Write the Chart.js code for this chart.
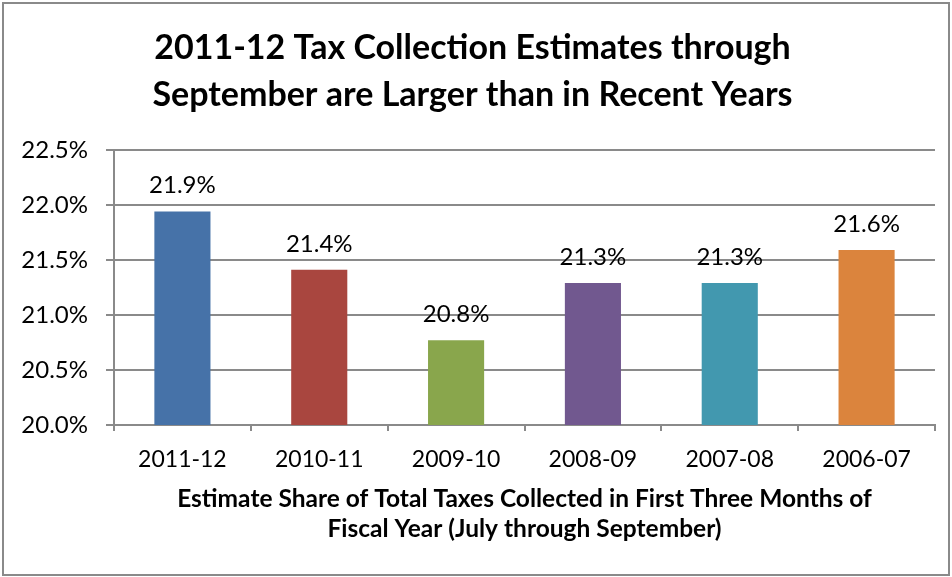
<!DOCTYPE html>
<html>
<head>
<meta charset="utf-8">
<script src="https://cdn.jsdelivr.net/npm/chart.js@4"></script>
<style>
  html, body { margin: 0; padding: 0; background: #fff; }
  #wrap { width: 952px; height: 577px; position: relative; }
</style>
</head>
<body>
<div id="wrap"><canvas id="chart"></canvas></div>
<script>
const years = ['2011-12', '2010-11', '2009-10', '2008-09', '2007-08', '2006-07']
const shares = [21.94, 21.41, 20.77, 21.29, 21.29, 21.59]
const barColors = ['#4672A8', '#A9463F', '#89A64C', '#71588F', '#4298AF', '#DB843D']
const yTicks = [20.0, 20.5, 21.0, 21.5, 22.0, 22.5]

const FONT = 'Lato'
const GRAY = '#8a8a8a'

// outer frame of the chart object
const framePlugin = {
  id: 'frame',
  beforeDraw: (chart) => {
    const ctx = chart.ctx
    ctx.save()
    ctx.fillStyle = '#fff'
    ctx.fillRect(0, 0, chart.width, chart.height)
    ctx.strokeStyle = GRAY
    ctx.lineWidth = 2
    ctx.strokeRect(3, 3, chart.width - 6, chart.height - 5)
    ctx.restore()
  }
}

// value labels above each bar
const valueLabels = {
  id: 'valueLabels',
  afterDatasetsDraw: (chart) => {
    const ctx = chart.ctx
    ctx.save()
    ctx.font = '24px ' + FONT
    ctx.fillStyle = '#000'
    ctx.textAlign = 'center'
    ctx.textBaseline = 'middle'
    chart.getDatasetMeta(0).data.forEach((bar, i) => {
      ctx.fillText(shares[i].toFixed(1) + '%', bar.x, bar.y - 26)
    })
    ctx.restore()
  }
}

const chart = new Chart(document.getElementById('chart'), {
  type: 'bar',
  data: {
    labels: years,
    datasets: [{
      data: shares,
      backgroundColor: barColors,
      borderWidth: 0,
      barPercentage: 0.41,
      categoryPercentage: 1
    }]
  },
  options: {
    responsive: true,
    maintainAspectRatio: false,
    animation: false,
    layout: { padding: { left: 10, right: 17, top: 0, bottom: 0 } },
    plugins: {
      legend: { display: false },
      tooltip: { enabled: false },
      title: {
        display: true,
        text: ['2011-12 Tax Collection Estimates through', 'September are Larger than in Recent Years'],
        color: '#000',
        font: { family: FONT, size: 34, weight: 'bold', lineHeight: 1.38 },
        padding: { top: 25, bottom: 31 }
      }
    },
    scales: {
      x: {
        afterFit: (scale) => { scale.height = 152 },
        grid: {
          display: true,
          drawOnChartArea: false,
          offset: true,
          tickLength: 6,
          color: GRAY,
          lineWidth: 2
        },
        border: { display: true, color: GRAY, width: 2 },
        ticks: {
          color: '#000',
          font: { family: FONT, size: 23 },
          padding: 15
        },
        title: {
          display: true,
          text: ['Estimate Share of Total Taxes Collected in First Three Months of', 'Fiscal Year (July through September)'],
          color: '#000',
          font: { family: FONT, size: 24.5, weight: 'bold', lineHeight: 1.22 },
          padding: { top: 0, bottom: 33 }
        }
      },
      y: {
        min: 20,
        max: 22.5,
        afterFit: (scale) => { scale.width = 104 },
        afterBuildTicks: (scale) => {
          scale.ticks = yTicks.map(v => ({ value: v }))
        },
        grid: {
          color: GRAY,
          lineWidth: 2,
          tickLength: 8
        },
        border: { display: true, color: GRAY, width: 2 },
        ticks: {
          color: '#000',
          font: { family: FONT, size: 24 },
          padding: 18,
          callback: (v) => v.toFixed(1) + '%'
        }
      }
    }
  },
  plugins: [framePlugin, valueLabels]
})
</script>
</body>
</html>
